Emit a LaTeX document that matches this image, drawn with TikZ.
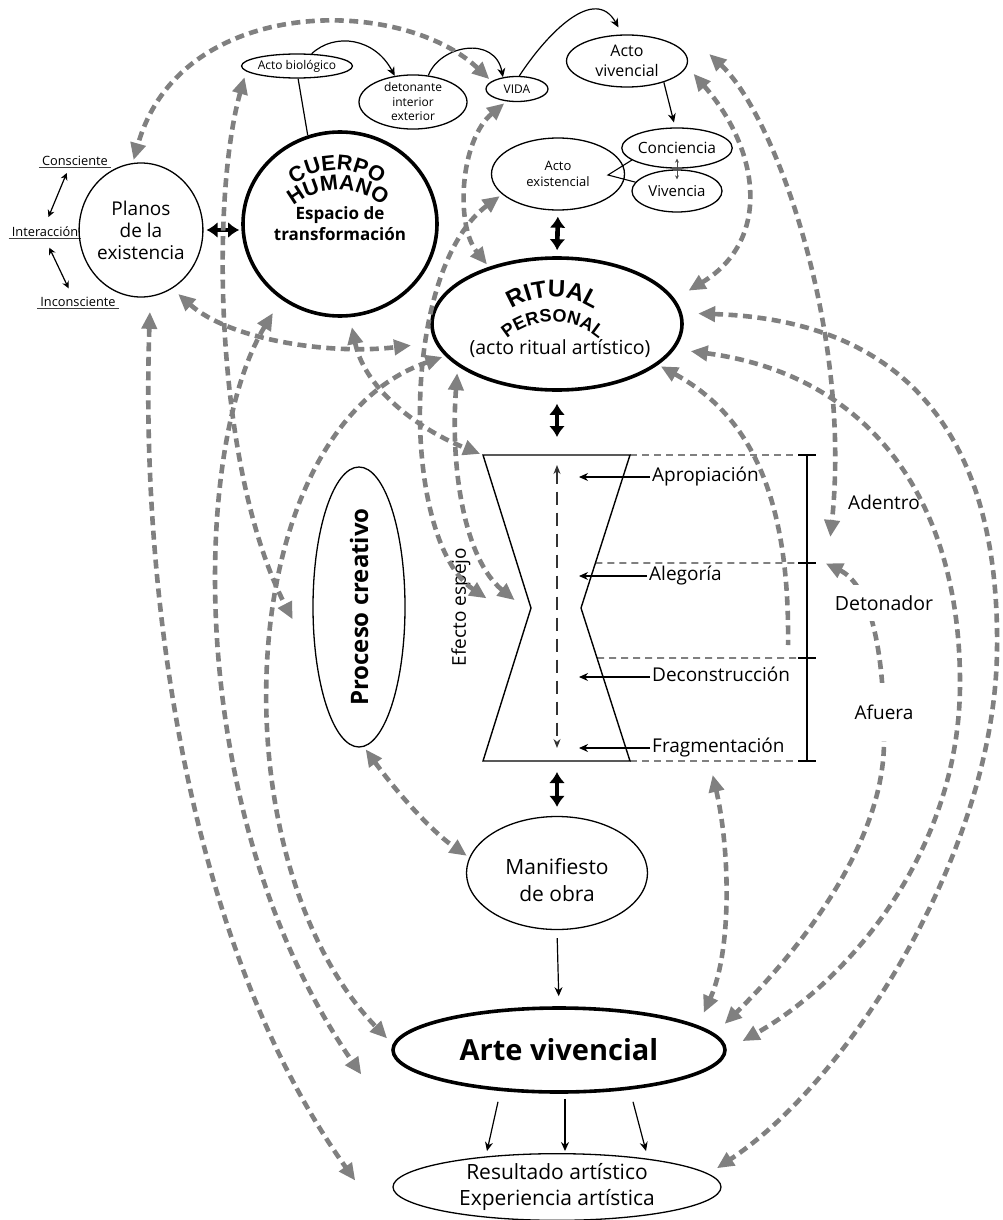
\documentclass[tikz,border=0pt]{standalone}
\usepackage{fontspec}
\setmainfont{Open Sans}
\newfontfamily\archfamily{Liberation Sans}
\usepackage{graphicx}
\usetikzlibrary{shapes.geometric,arrows.meta,decorations.text,calc}
\definecolor{linkgray}{RGB}{128,128,128}
\newcommand{\fsz}[2]{\fontsize{#1}{#2}\selectfont}
\newcommand{\archcuerpo}{\archfamily\bfseries\fontsize{21.5}{21.5}\selectfont}
\newcommand{\archbig}{\archfamily\bfseries\fontsize{24}{24}\selectfont}
\newcommand{\archsmall}{\archfamily\bfseries\fontsize{18}{18}\selectfont}
\tikzset{
    bubble/.style={ellipse,draw,line width=1.3pt,inner sep=0pt,align=center},
    heavybubble/.style={bubble,line width=3.6pt},
    linkdash/.style={draw=linkgray,line width=4.6pt,dash pattern=on 9pt off 5.5pt,
        arrows={Triangle[length=17pt,width=15pt]-Triangle[length=17pt,width=15pt]},
        shorten <=3pt,shorten >=3pt},
    bigdouble/.style={line width=4.6pt,arrows={Latex[length=11pt,width=16pt]-Latex[length=11pt,width=16pt]}},
    thinarrow/.style={line width=1.2pt,arrows={-Stealth[length=9pt,width=8pt]}},
    smalldouble/.style={line width=1.2pt,arrows={Stealth[length=7pt,width=7pt]-Stealth[length=7pt,width=7pt]}},
    tinydouble/.style={line width=0.7pt,black!70,arrows={Stealth[length=4pt,width=4pt]-Stealth[length=4pt,width=4pt]}},
    guide/.style={draw=linkgray,line width=1.8pt,dash pattern=on 7pt off 5pt},
    axisdash/.style={line width=1.1pt,black!80,dash pattern=on 13pt off 8pt,
        arrows={Stealth[length=9pt,width=7pt]-Stealth[length=9pt,width=7pt]}},
    hglabel/.style={anchor=west,font=\fsz{19}{21},inner sep=2pt,text height=13pt,text depth=4pt},
    sidelabel/.style={font=\fsz{19}{21},inner sep=2pt},
    leftlabel/.style={font=\fsz{12.8}{14},inner xsep=3pt,inner ysep=1.5pt},
    arched/.style={decorate,decoration={text along path,text align=center,text={#1}}}
}
\begin{document}
\begin{tikzpicture}[x=1pt,y=-1pt]
\useasboundingbox (0,0) rectangle (1003,1220);

% planes of existence
\node[leftlabel] (consciente) at (75,161) {Consciente};
\node[leftlabel] (interaccion) at (45,232) {Interacción};
\node[leftlabel] (inconsciente) at (78,302) {Inconsciente};
\foreach \w in {consciente,interaccion,inconsciente}
    \draw[line width=0.7pt,black!75] (\w.south west) -- (\w.south east);
\draw[smalldouble,shorten <=6pt,shorten >=9pt] ([xshift=-6pt]consciente.south) -- (interaccion.north);
\draw[smalldouble,shorten <=10pt,shorten >=8pt] (interaccion.south) -- ([xshift=-6pt]inconsciente.north);

\node[bubble,minimum width=112pt,minimum height=134pt,font=\fsz{19}{22}] (planos) at (141,230) {Planos\\de la\\existencia};
\node[heavybubble,minimum width=194pt,minimum height=184pt,font=\bfseries\fsz{17}{21}] (cuerpo) at (340,224) {Espacio de\\transformación};
\path[arched={|\archcuerpo|CUERPO}] (273.6,210.4) .. controls (298.7,156.5) and (375.3,156.5) .. (400.4,210.4);
\path[arched={|\archcuerpo|HUMANO}] (274.6,230.4) .. controls (299.7,176.5) and (376.3,176.5) .. (401.4,230.4);

% top chain
\node[bubble,minimum width=105pt,minimum height=24pt,font=\fsz{12}{13}] (actobio) at (297,66) {Acto biológico};
\node[bubble,minimum width=108pt,minimum height=50pt,font=\fsz{12}{14.5}] (detonante) at (413,102) {detonante\\interior\\exterior};
\node[bubble,minimum width=62pt,minimum height=25pt,font=\fsz{12}{13}] (vida) at (517,89) {VIDA};
\node[bubble,minimum width=121pt,minimum height=52pt,font=\fsz{16}{19.5}] (actoviv) at (627,61) {Acto\\vivencial};
\node[bubble,minimum width=100pt,minimum height=40pt,font=\fsz{15.5}{18}] (conciencia) at (677,148) {Conciencia};
\node[bubble,minimum width=90pt,minimum height=42pt,font=\fsz{15}{18}] (vivencia) at (677,191) {Vivencia};
\node[bubble,minimum width=133pt,minimum height=72pt,font=\fsz{13}{16}] (actoexist) at (558,174) {Acto\\existencial};
\coordinate (joinpt) at (608,175);

% ritual
\node[heavybubble,minimum width=250pt,minimum height=132pt] (ritual) at (557,324) {};
\path[arched={|\archbig|RITUAL}] (485,340.3) .. controls (511.9,282.6) and (594.1,282.6) .. (621,340.3);
\path[arched={|\archsmall|PERSONAL}] (489.6,362.4) .. controls (514.7,308.5) and (591.3,308.5) .. (616.4,362.4);
\node[font=\fsz{19.5}{21}] (ritualsub) at (560,349) {(acto ritual artístico)};

% hourglass
\coordinate (hgtl) at (483,455);
\coordinate (hgtr) at (630,455);
\coordinate (hgwl) at (531,608);
\coordinate (hgwr) at (581,608);
\coordinate (hgbl) at (483,761);
\coordinate (hgbr) at (630,761);
\coordinate (hgtop) at (557,455);
\coordinate (hgbot) at (557,761);
\coordinate (hgaxis) at (557,608);
\coordinate (brA) at (807,455);
\coordinate (brB) at (807,563);
\coordinate (brC) at (807,658);
\coordinate (brD) at (807,761);
\draw[guide] (hgtr) -- (brA);
\draw[guide] ($(hgtr)!0.706!(hgwr)$) -- (brB);
\draw[guide] ($(hgwr)!0.327!(hgbr)$) -- (brC);
\draw[guide] (hgbr) -- (brD);
\draw[line width=1.4pt] (hgtl) -- (hgtr) -- (hgwr) -- (hgbr) -- (hgbl) -- (hgwl) -- cycle;
\draw[axisdash] ([yshift=-10pt]hgtop) -- ([yshift=13pt]hgbot);
\draw[line width=1.6pt] (brA) -- (brD);
\foreach \b in {brA,brB,brC,brD}
    \draw[line width=1.6pt] ([xshift=-9pt]\b) -- ([xshift=9pt]\b);
\node[hglabel] (apropiacion) at (650,477) {Apropiación};
\node[hglabel] (alegoria) at (647,576) {Alegoría};
\node[hglabel] (deconstruccion) at (650,677) {Deconstrucción};
\node[hglabel] (fragmentacion) at (650,748) {Fragmentación};
\foreach \l in {apropiacion,alegoria,deconstruccion,fragmentacion}
    \draw[thinarrow,shorten >=22pt] (\l.west) -- (\l.west -| hgaxis);
\node[sidelabel] (adentro) at (884,502) {Adentro};
\node[rotate=90,font=\fsz{19}{21}] (espejo) at (461,607) {Efecto espejo};

% lower column
\node[bubble,minimum width=92pt,minimum height=280pt] (proceso) at (359,607) {\rotatebox{90}{\bfseries\fsz{24}{26}Proceso creativo}};
\node[bubble,minimum width=181pt,minimum height=113pt] (manifiesto) at (557,873) {};
\node[font=\fsz{21}{27},align=center] (manifiestotxt) at (557,880) {Manifiesto\\de obra};
\node[heavybubble,minimum width=332pt,minimum height=84pt,font=\bfseries\fsz{29}{31}] (arte) at (559,1050) {Arte vivencial};
\node[bubble,minimum width=328pt,minimum height=62pt,font=\fsz{21}{26}] (resultado) at (557,1187) {Resultado artístico\\Experiencia artística};

% black connectors
\draw[bigdouble,shorten <=3pt,shorten >=2pt] (planos.east) -- (planos.east -| cuerpo.west);
\draw[line width=1.2pt] (actobio.-85) -- (cuerpo.110);
\draw[thinarrow] (actobio.40) .. controls (335,32) and (375,38) .. (detonante.125);
\draw[thinarrow] (detonante.60) .. controls (440,45) and (495,35) .. (vida.140);
\draw[thinarrow,shorten >=8pt] (vida.80) .. controls (548,32) and (595,-15) .. (actoviv.100);
\draw[thinarrow,shorten >=5pt] (actoviv.-30) -- (conciencia.95);
\draw[tinydouble] ([yshift=10pt]conciencia.south) -- ([yshift=-10pt]vivencia.north);
\draw[line width=1.1pt] (conciencia.195) -- (joinpt) -- (vivencia.168);
\draw[bigdouble,shorten <=6pt,shorten >=6pt] (actoexist.south) -- (ritual.north);
\draw[bigdouble,shorten <=12pt,shorten >=18pt] (ritual.south) -- (hgtop);
\draw[bigdouble,shorten <=11pt,shorten >=9pt] (hgbot) -- (manifiesto.north);
\draw[thinarrow,shorten <=8pt,shorten >=10pt] (manifiesto.south) -- (arte.north);
\draw[thinarrow] ([xshift=-61pt,yshift=-8pt]arte.south) -- ([xshift=-70pt,yshift=2pt]resultado.north);
\draw[thinarrow] ([xshift=6pt,yshift=-5pt]arte.south) -- ([xshift=8pt,yshift=2pt]resultado.north);
\draw[thinarrow] ([xshift=74pt,yshift=-8pt]arte.south) -- ([xshift=89pt,yshift=2pt]resultado.north);

% free ends of the grey links
\coordinate (tipres) at (357,1183);
\coordinate (tiparte) at (363,1077);
\coordinate (tipcrea) at (294,622);
\coordinate (tipritual) at (414,345);
\coordinate (tipmirA) at (489,600);
\coordinate (tipmirB) at (517,602);
\coordinate (vivtip) at (707,52);
\coordinate (adentropt) at (830,540);
\coordinate (detonpt) at (823,562);
\coordinate (fragpt) at (712,772);
\coordinate (r3end) at (788,648);

% grey links
\draw[linkdash] (vida.163) .. controls (400,-5) and (180,-5) .. (planos.97);
\draw[linkdash,shorten <=15pt] (planos.-82) .. controls (140,600) and (190,950) .. (tipres);
\draw[linkdash,shorten <=16pt] (cuerpo.232) .. controls (190,450) and (185,820) .. (tiparte);
\draw[linkdash,shorten <=6pt] (actobio.186) .. controls (210,200) and (215,470) .. (tipcrea);
\draw[linkdash,shorten >=8pt] (ritual.196) .. controls (230,430) and (215,860) .. (arte.178);
\draw[linkdash,shorten <=8pt] (planos.-62) .. controls (230,340) and (330,355) .. (tipritual);
\draw[linkdash,shorten <=10pt] (cuerpo.-84) .. controls (365,390) and (420,430) .. (hgtl);
\draw[linkdash] (actoexist.200) .. controls (400,270) and (400,540) .. (tipmirA);
\draw[linkdash,shorten <=7pt] (ritual.203) .. controls (450,470) and (465,560) .. (tipmirB);
\draw[linkdash] (vida.-130) .. controls (460,140) and (455,225) .. (ritual.140);
\draw[linkdash,shorten <=10pt,shorten >=16pt] (actoviv.-5) .. controls (760,150) and (772,240) .. (ritual.12);
\draw[linkdash] (vivtip) .. controls (775,115) and (852,330) .. (adentropt);
\draw[linkdash,shorten >=14pt] (detonpt) .. controls (870,585) and (885,650) .. (884,743)
    .. controls (883,850) and (790,960) .. (arte.6);
\draw[linkdash,shorten <=16pt,shorten >=10pt] (ritual.5) .. controls (900,320) and (1000,430) .. (997,650)
    .. controls (995,850) and (850,1080) .. (resultado.5);
\draw[linkdash,shorten <=16pt,shorten >=18pt] (ritual.-12) .. controls (870,375) and (960,500) .. (960,683)
    .. controls (960,850) and (850,980) .. (arte.east);
\draw[linkdash,arrows={Triangle[length=17pt,width=15pt]-}] (ritual.-22) .. controls (740,410) and (790,480) .. (r3end);
\draw[linkdash,shorten >=14pt] (fragpt) .. controls (730,850) and (732,950) .. (arte.10);
\draw[linkdash] (proceso.-88) .. controls (395,790) and (430,830) .. (manifiesto.170);

% labels cutting the detonator link
\node[sidelabel,fill=white,minimum height=36pt,font=\fsz{19.5}{21}] (detonador) at (884,603) {Detonador};
\node[sidelabel,fill=white,minimum height=58pt] (afuera) at (884,712) {Afuera};
\end{tikzpicture}
\end{document}
